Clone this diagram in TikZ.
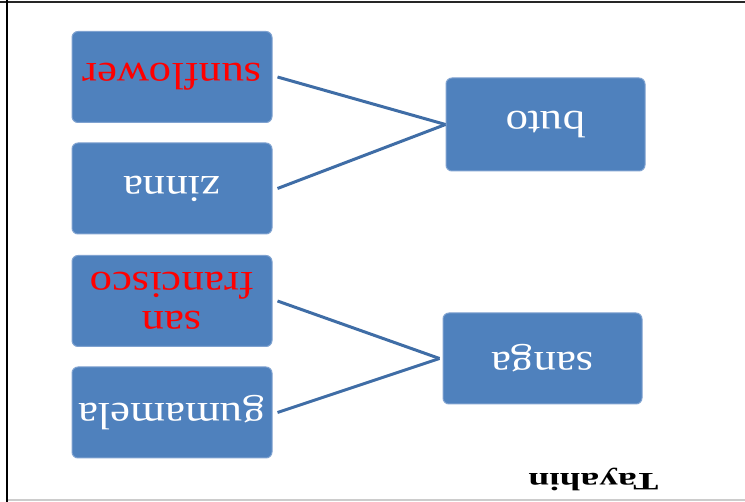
\documentclass[tikz,border=0pt]{standalone}
\usepackage{fontspec}
\setmainfont{Liberation Serif}
\newfontfamily\boxfont[FakeStretch=1.18]{Liberation Serif}
\newfontfamily\titlefont[FakeStretch=1.5]{Liberation Serif}
\definecolor{boxblue}{HTML}{4F81BD}
\definecolor{boxedge}{HTML}{7FA2D0}
\definecolor{linkblue}{HTML}{3F6DA6}
\tikzset{>=latex}
\tikzset{
  flower/.style={rectangle,rounded corners=6pt,fill=boxblue,draw=boxedge,line width=1pt,
    minimum width=200pt,minimum height=91pt,inner sep=2pt,rotate=180,
    text=white,align=center,font=\boxfont\fontsize{38}{39}\selectfont},
  redtext/.style={text=red},
  link/.style={draw=linkblue,line width=3pt},
}

\begin{document}
\begin{tikzpicture}[x=1pt,y=-1pt]
  \useasboundingbox (0,0) rectangle (745,502);

  % Frame
  \draw[line width=2pt,black!85] (0,2) -- (745,2);
  \draw[line width=2.5pt,black] (7,0) -- (7,502);
  \draw[line width=1.5pt,black!20] (8,500) -- (745,500);

  % Boxes (turned upside down, so west is on the right)
  \node[flower,redtext] (sun) at (172,77) {sunflower};
  \node[flower] (zin) at (172,188.5) {zinna};
  \node[flower,redtext] (san) at (172,301) {san\\francisco};
  \node[flower] (gum) at (172,412.5) {gumamela};
  \node[flower,minimum height=93pt,minimum width=199pt] (buto) at (545.5,124.5) {buto};
  \node[flower,minimum width=199pt] (sanga) at (542.5,358.5) {sanga};

  % Links
  \draw[link] ([xshift=5pt]sun.west) -- (buto.east);
  \draw[link] ([xshift=5pt]zin.west) -- (buto.east);
  \draw[link] ([xshift=5pt]san.west) -- ([xshift=-3pt]sanga.east);
  \draw[link] ([xshift=5pt]gum.west) -- ([xshift=-3pt]sanga.east);

  % Label
  \node[rotate=180,inner sep=0pt,font=\titlefont\bfseries\fontsize{25}{25}\selectfont] (title) at (593.5,479) {Tayahin};
\end{tikzpicture}
\end{document}
